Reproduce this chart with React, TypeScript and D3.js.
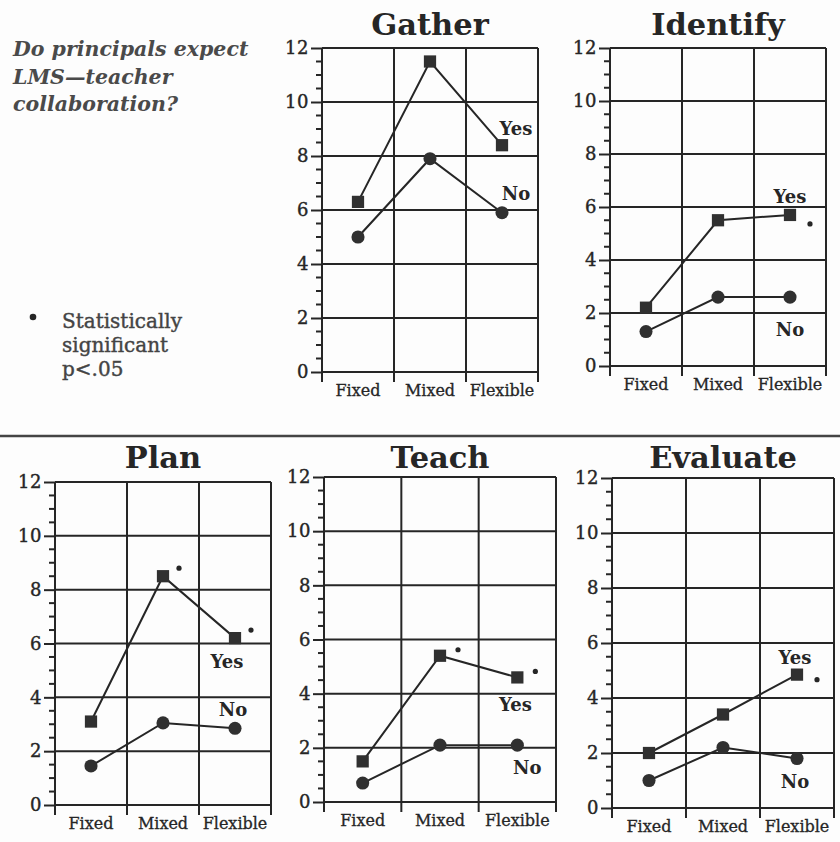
import { axisLeft, line, range, scaleBand, scaleLinear, select, symbol, symbolCircle, symbolSquare } from 'd3';
import React, { useEffect, useRef } from 'react';

// chart values
const categories = ['Fixed', 'Mixed', 'Flexible'];
const titles = ['Gather', 'Identify', 'Plan', 'Teach', 'Evaluate'];
const yTicks = [0, 2, 4, 6, 8, 10, 12];

const yesGather = [6.3, 11.5, 8.4];
const noGather = [5.0, 7.9, 5.9];
const yesIdentify = [2.2, 5.5, 5.7];
const noIdentify = [1.3, 2.6, 2.6];
const yesPlan = [3.1, 8.5, 6.2];
const noPlan = [1.45, 3.05, 2.85];
const yesTeach = [1.5, 5.4, 4.6];
const noTeach = [0.7, 2.1, 2.1];
const yesEvaluate = [2.0, 3.4, 4.85];
const noEvaluate = [1.0, 2.2, 1.8];

// significant (p<.05) points of the Yes series
const sigGather = [false, false, false];
const sigIdentify = [false, false, true];
const sigPlan = [false, true, true];
const sigTeach = [false, true, true];
const sigEvaluate = [false, false, true];

const questionLines = ['Do principals expect', 'LMS\u2014teacher', 'collaboration?'];
const legendLines = ['Statistically', 'significant', 'p<.05'];

const yesSeries = [yesGather, yesIdentify, yesPlan, yesTeach, yesEvaluate];
const noSeries = [noGather, noIdentify, noPlan, noTeach, noEvaluate];
const sigSeries = [sigGather, sigIdentify, sigPlan, sigTeach, sigEvaluate];

// panel placement (pixels)
const layout = [
  { left: 322, right: 538, top: 48, bottom: 372, titleY: 35, yesLab: [14, -10], noLab: [14, -13], sig: [20, 7] },
  { left: 610, right: 826, top: 48, bottom: 366, titleY: 35, yesLab: [0, -12], noLab: [0, 39], sig: [20, 9] },
  { left: 55, right: 271, top: 482, bottom: 805, titleY: 468, yesLab: [-8, 30], noLab: [-2, -12], sig: [16, -8] },
  { left: 324, right: 556, top: 477, bottom: 802, titleY: 468, yesLab: [-2, 34], noLab: [10, 29], sig: [18, -6] },
  { left: 612, right: 834, top: 478, bottom: 808, titleY: 468, yesLab: [-2, -11], noLab: [-2, 29], sig: [20, 5] },
];

const width = 840;
const height = 842;
const ink = '#262626';
const font = '"DejaVu Serif", "Liberation Serif", serif';

function App() {
  const svgRef = useRef(null);

  const drawPanel = (svg, i) => {
    const L = layout[i];
    const x = scaleBand().domain(categories).range([L.left, L.right]);
    const y = scaleLinear().domain([0, 12]).range([L.bottom, L.top]);
    const cx = (c) => x(c) + x.bandwidth() / 2;
    const g = svg.append('g');

    // horizontal grid
    g.selectAll('.hgrid')
      .data(yTicks)
      .join('line')
      .attr('x1', L.left)
      .attr('x2', L.right)
      .attr('y1', (d) => y(d))
      .attr('y2', (d) => y(d))
      .attr('stroke', ink)
      .attr('stroke-width', 2);

    // vertical grid, running a bit under the base line
    const verts = categories.map((c) => x(c)).concat([L.right]);
    g.selectAll('.vgrid')
      .data(verts)
      .join('line')
      .attr('x1', (d) => d)
      .attr('x2', (d) => d)
      .attr('y1', y(12))
      .attr('y2', y(0) + 10)
      .attr('stroke', ink)
      .attr('stroke-width', 2);

    // minor ticks every half unit
    g.selectAll('.minor')
      .data(range(0.5, 12, 0.5).filter((v) => v % 2 !== 0))
      .join('line')
      .attr('x1', L.left - 6)
      .attr('x2', L.left)
      .attr('y1', (d) => y(d))
      .attr('y2', (d) => y(d))
      .attr('stroke', ink)
      .attr('stroke-width', 2);

    const yAxis = axisLeft(y).tickValues(yTicks).tickSize(11).tickPadding(2).tickFormat((d) => `${d}`);
    const ax = g.append('g').attr('transform', `translate(${L.left},0)`).call(yAxis);
    ax.select('.domain').remove();
    ax.selectAll('line').attr('stroke', ink).attr('stroke-width', 2);
    ax.selectAll('text')
      .attr('font-family', font)
      .attr('font-size', 18)
      .attr('letter-spacing', 0.5)
      .attr('fill', ink)
      .attr('stroke', ink)
      .attr('stroke-width', 0.4);

    // category labels
    g.selectAll('.cat')
      .data(categories)
      .join('text')
      .attr('x', (c) => cx(c))
      .attr('y', y(0) + 24)
      .attr('text-anchor', 'middle')
      .attr('font-family', font)
      .attr('font-size', 16)
      .attr('fill', ink)
      .attr('stroke', ink)
      .attr('stroke-width', 0.3)
      .text((c) => c);

    g.append('text')
      .attr('x', (L.left + L.right) / 2)
      .attr('y', L.titleY)
      .attr('text-anchor', 'middle')
      .attr('font-family', font)
      .attr('font-weight', 'bold')
      .attr('font-size', 30.5)
      .attr('fill', ink)
      .text(titles[i]);

    const yes = yesSeries[i];
    const no = noSeries[i];
    const pts = (vals) => vals.map((v, k) => [cx(categories[k]), y(v)]);
    const myLine = line();

    [yes, no].forEach((vals) => {
      g.append('path')
        .attr('d', myLine(pts(vals)))
        .attr('fill', 'none')
        .attr('stroke', ink)
        .attr('stroke-width', 2);
    });

    g.selectAll('.sq')
      .data(pts(yes))
      .join('path')
      .attr('transform', (p) => `translate(${p[0]},${p[1]})`)
      .attr('d', symbol(symbolSquare, 150)())
      .attr('fill', '#303030');

    g.selectAll('.ci')
      .data(pts(no))
      .join('path')
      .attr('transform', (p) => `translate(${p[0]},${p[1]})`)
      .attr('d', symbol(symbolCircle, 135)())
      .attr('fill', '#303030');

    const lastYes = pts(yes)[2];
    const lastNo = pts(no)[2];
    g.append('text')
      .attr('x', lastYes[0] + L.yesLab[0])
      .attr('y', lastYes[1] + L.yesLab[1])
      .attr('text-anchor', 'middle')
      .attr('font-family', font)
      .attr('font-weight', 'bold')
      .attr('font-size', 18)
      .attr('fill', ink)
      .text('Yes');
    g.append('text')
      .attr('x', lastNo[0] + L.noLab[0])
      .attr('y', lastNo[1] + L.noLab[1])
      .attr('text-anchor', 'middle')
      .attr('font-family', font)
      .attr('font-weight', 'bold')
      .attr('font-size', 18)
      .attr('fill', ink)
      .text('No');

    g.selectAll('.sig')
      .data(pts(yes).filter((p, k) => sigSeries[i][k]))
      .join('circle')
      .attr('cx', (p) => p[0] + L.sig[0])
      .attr('cy', (p) => p[1] + L.sig[1])
      .attr('r', 2.6)
      .attr('fill', ink);
  };

  useEffect(() => {
    const svg = select(svgRef.current);
    svg.selectAll('*').remove();
    svg.append('rect').attr('width', width).attr('height', height).attr('fill', '#fdfdfd');

    svg.append('g')
      .selectAll('text')
      .data(questionLines)
      .join('text')
      .attr('x', 13)
      .attr('y', (d, k) => 56 + k * 27.5)
      .attr('font-family', font)
      .attr('font-style', 'italic')
      .attr('font-weight', 'bold')
      .attr('font-size', 20.5)
      .attr('fill', '#4a4a4a')
      .text((d) => d);

    svg.append('circle').attr('cx', 33).attr('cy', 317).attr('r', 3.3).attr('fill', ink);
    svg.append('g')
      .selectAll('text')
      .data(legendLines)
      .join('text')
      .attr('x', 62)
      .attr('y', (d, k) => 328 + k * 24)
      .attr('font-family', font)
      .attr('font-size', 20)
      .attr('fill', '#444')
      .attr('stroke', '#444')
      .attr('stroke-width', 0.4)
      .text((d) => d);

    svg.append('line')
      .attr('x1', 0)
      .attr('x2', width)
      .attr('y1', 436)
      .attr('y2', 436)
      .attr('stroke', '#444')
      .attr('stroke-width', 2.5);

    titles.forEach((t, i) => drawPanel(svg, i));
  }, []);

  return (
    <svg ref={svgRef} width={width} height={height} style={{ position: 'absolute', left: 0, top: 0 }}></svg>
  );
}

export default App;
